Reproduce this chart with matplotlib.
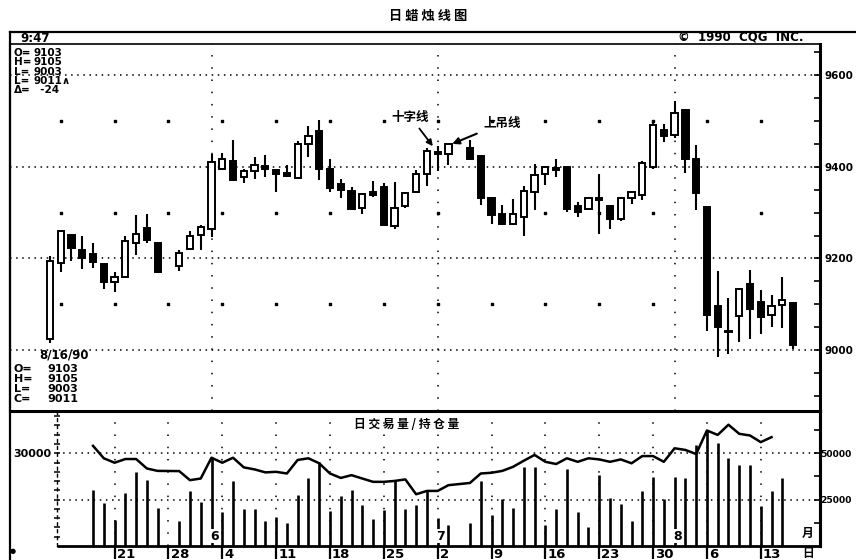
import numpy as np
import matplotlib
matplotlib.use("Agg")
import matplotlib.pyplot as plt
from matplotlib.patches import Rectangle
from matplotlib.lines import Line2D

CJK = ['Noto Sans CJK SC', 'DejaVu Sans']
plt.rcParams['font.family'] = ['DejaVu Sans', 'Noto Sans CJK SC']
plt.rcParams['font.weight'] = 'bold'

# every weekday 5/11/90 - 8/16/90; holidays keep an empty slot on the chart
weekdays = np.arange('1990-05-11', '1990-08-17', dtype='datetime64[D]')
weekdays = weekdays[np.is_busday(weekdays)]
holidays = np.array(['1990-05-28', '1990-07-04'], dtype='datetime64[D]')
trade_days = weekdays[~np.isin(weekdays, holidays)]

# daily candles (68 trading days)
opens = [9025, 9190, 9252, 9218, 9209, 9187, 9149, 9160, 9233, 9266, 9233,
         9183, 9220, 9251, 9265, 9396, 9412, 9378, 9391, 9401, 9392, 9387,
         9376, 9450, 9478, 9396, 9362, 9347, 9311, 9345, 9355, 9270, 9314,
         9345, 9385, 9430, 9429, 9440, 9423, 9331, 9298, 9276, 9290, 9345,
         9384, 9397, 9400, 9314, 9307, 9331, 9314, 9287, 9331, 9338, 9399,
         9481, 9469, 9525, 9418, 9312, 9096, 9042, 9074, 9144, 9105, 9076,
         9098, 9103]
highs = [9205, 9263, 9254, 9248, 9233, 9188, 9171, 9249, 9294, 9298, 9236,
         9219, 9260, 9272, 9429, 9430, 9458, 9396, 9421, 9425, 9394, 9405,
         9456, 9490, 9503, 9416, 9374, 9355, 9343, 9368, 9365, 9367, 9346,
         9394, 9440, 9445, 9450, 9459, 9425, 9333, 9316, 9329, 9357, 9407,
         9401, 9416, 9402, 9323, 9334, 9385, 9316, 9333, 9346, 9412, 9500,
         9493, 9543, 9527, 9447, 9314, 9173, 9113, 9136, 9174, 9132, 9120,
         9160, 9105]
lows = [9015, 9170, 9195, 9177, 9179, 9133, 9127, 9158, 9207, 9233, 9168,
        9173, 9218, 9218, 9247, 9394, 9370, 9365, 9374, 9378, 9345, 9378,
        9374, 9421, 9371, 9345, 9331, 9305, 9298, 9333, 9270, 9265, 9309,
        9343, 9357, 9390, 9403, 9414, 9316, 9276, 9273, 9274, 9249, 9305,
        9360, 9378, 9302, 9291, 9305, 9254, 9264, 9281, 9319, 9327, 9395,
        9454, 9462, 9387, 9305, 9042, 8985, 8991, 9018, 9025, 9035, 9051,
        9049, 9003]
closes = [9195, 9260, 9222, 9200, 9193, 9149, 9160, 9238, 9253, 9240, 9171,
          9212, 9249, 9268, 9410, 9418, 9372, 9390, 9403, 9396, 9385, 9380,
          9450, 9467, 9396, 9354, 9350, 9307, 9340, 9338, 9272, 9311, 9343,
          9384, 9435, 9429, 9449, 9416, 9331, 9294, 9275, 9298, 9348, 9382,
          9399, 9392, 9307, 9302, 9331, 9328, 9285, 9331, 9345, 9409, 9492,
          9467, 9518, 9416, 9342, 9076, 9051, 9039, 9134, 9089, 9073, 9096,
          9110, 9011]

# daily volume (from 5/17) and open interest (from 5/17)
vol_first = np.datetime64('1990-05-17')
volume = [18100, 13800, 8400, 17300, 23900, 21400, 12200, 8200, 17800, 14300,
          28900, 11100, 21100, 12000, 11900, 8200, 9500, 7300, 16500, 21900,
          27300, 11400, 16200, 18100, 13300, 8600, 11600, 21400, 11900, 13300,
          18100, 9200, 6800, 7300, 21000, 10000, 15100, 12200, 25700, 25700,
          6800, 11900, 24800, 11100, 6300, 23000, 15400, 13600, 8200, 17800,
          22400, 15100, 22400, 21900, 32700, 37500, 33200, 28400, 26200, 26200,
          12900, 17800, 21900]
open_interest = [54000, 47300, 44900, 46900, 46900, 41800, 40500, 40400, 35500,
                 36400, 47600, 44900, 47600, 42400, 41300, 39700, 40000, 39100,
                 46400, 47300, 44600, 39100, 36700, 38200, 36400, 34600, 34600,
                 35100, 35900, 27900, 29700, 29700, 32800, 34000, 39100, 39500,
                 40500, 42700, 46000, 49100, 45400, 44200, 47300, 45400, 47300,
                 46700, 45400, 46700, 44600, 48500, 48500, 45400, 52700, 51800,
                 49600, 62300, 59900, 65400, 60500, 59600, 56000, 58700]

price_ticks = [9000, 9200, 9400, 9600]
price_dot_rows = [9100, 9300, 9500]
month_labels = ['6', '7', '8']
top_labels = ['O=', 'H=', 'L=', 'L=', 'Δ=']
top_values = ['9103', '9105', '9003', '9011∧', '  -24']
last_date = '8/16/90'
last_labels = ['O=', 'H=', 'L=', 'C=']
last_values = ['9103', '9105', '9003', '9011']


def slot(days):
    return np.searchsorted(weekdays, days)


x_c = slot(trade_days)
k0 = int(np.searchsorted(trade_days, vol_first))
x_vol = x_c[k0:k0 + len(volume)]
x_oi = x_c[k0:k0 + len(open_interest)]

dnum = weekdays.astype('int64')
mondays = weekdays[(dnum - 4) % 7 == 0]
x_mon = slot(mondays)
mon_lab = (mondays - mondays.astype('datetime64[M]')).astype(int) + 1
month_of = trade_days.astype('datetime64[M]')
first_of_month = trade_days[np.r_[False, month_of[1:] != month_of[:-1]]]
x_month = slot(first_of_month)

W, H = 856, 560
def fx(x): return x / W
def fy(y): return 1 - y / H

fig = plt.figure(figsize=(8.56, 5.6), dpi=100)
XL = (-3.71, 71.5)

# ---------------- price panel ----------------
ax = fig.add_axes([fx(10), fy(411), fx(820) - fx(10), fy(44) - fy(411)])
ax.set_xlim(*XL)
ax.set_ylim(8867, 9668)

for p in price_ticks:
    ax.axhline(p, color='black', lw=1.1, ls=(0, (1, 3)), zorder=1)
for xm in x_month:
    ax.axvline(xm, color='black', lw=1.1, ls=(0, (1, 7)), zorder=1)
dx = np.repeat(x_mon, len(price_dot_rows))
dy = np.tile(price_dot_rows, len(x_mon))
ax.scatter(dx, dy, s=2, marker='s', color='black', zorder=1)

w = 0.58
for xi, o, h, l, c in zip(x_c, opens, highs, lows, closes):
    ax.vlines(xi, l, h, color='black', lw=1.5, zorder=2)
    lo, hi = min(o, c), max(o, c)
    ax.add_patch(Rectangle((xi - w / 2, lo), w, max(hi - lo, 3),
                           facecolor='white' if c > o else 'black',
                           edgecolor='black', lw=1.4, zorder=3))

ax.set_xticks([])
ax.yaxis.tick_right()
ax.set_yticks(price_ticks)
ax.set_yticklabels([str(p) for p in price_ticks])
ax.set_yticks(np.arange(8900, 9651, 50), minor=True)
ax.tick_params(axis='y', which='both', direction='in', length=4, width=1.2,
               right=True, left=False)
ax.tick_params(axis='y', which='major', pad=3, labelsize=7.5)
ax.spines['left'].set_linewidth(1.5)
ax.spines['top'].set_linewidth(1.2)
ax.spines['right'].set_linewidth(2.2)
ax.spines['bottom'].set_linewidth(2.2)

doji = int(np.searchsorted(trade_days, np.datetime64('1990-07-02')))
hang = doji + 1
ax.annotate('十字线', xy=(x_c[doji] - 0.45, highs[doji]), xytext=(-16, 21),
            textcoords='offset points', ha='center', va='center',
            family=CJK, fontsize=9, weight='bold',
            arrowprops=dict(arrowstyle='-|>', lw=1.3, color='black',
                            mutation_scale=9, shrinkA=2, shrinkB=0))
ax.annotate('上吊线', xy=(x_c[hang] + 0.35, highs[hang]), xytext=(36, 15),
            textcoords='offset points', ha='center', va='center',
            family=CJK, fontsize=9, weight='bold',
            arrowprops=dict(arrowstyle='-|>', lw=1.5, color='black',
                            mutation_scale=10, shrinkA=3, shrinkB=0))

# ---------------- volume / open interest panel ----------------
axv = fig.add_axes([fx(10), fy(546), fx(820) - fx(10), fy(411) - fy(546)])
axv.set_xlim(*XL)
axv.set_ylim(0, 43690)
axv.patch.set_alpha(0)
left_x = 0.65

axv.hlines([30000, 15000], left_x, XL[1], color='black', lw=1.1,
           ls=(0, (1, 3)), zorder=1)
lab_sel = x_mon >= x_vol[0]
lab_mon = x_mon[lab_sel]
axv.vlines(lab_mon, 0, 43690, color='black', lw=1.1, ls=(0, (1, 7)), zorder=1)
axv.vlines(x_vol, 0, volume, color='black', lw=1.9, zorder=2)
axv.hlines(0, left_x, XL[1], color='black', lw=2, clip_on=False, zorder=4)

axv.spines['top'].set_visible(False)
axv.spines['bottom'].set_visible(False)
axv.spines['right'].set_linewidth(2.2)
axv.spines['left'].set_position(('data', left_x))
axv.spines['left'].set_linestyle((0, (2, 3)))
axv.spines['left'].set_linewidth(1.0)
axv.set_yticks([30000])
axv.set_yticklabels(['30000'])
axv.set_yticks(np.arange(3000, 43000, 3000), minor=True)
axv.tick_params(axis='y', which='both', direction='inout', length=4, width=1.1,
                pad=2, labelsize=8)

lab_mon_days = mon_lab[lab_sel]
axv.set_xticks(lab_mon)
axv.tick_params(axis='x', direction='out', length=9, width=1.6,
                labelbottom=False)
for xm, d in zip(lab_mon, lab_mon_days):
    axv.annotate(str(d), xy=(xm, 0), xytext=(1.5, -1.5),
                 textcoords='offset points', ha='left', va='top',
                 fontsize=9.5, annotation_clip=False)
for xm, lbl in zip(x_month, month_labels):
    axv.annotate(lbl, xy=(xm, 0), xytext=(2, 2.5), textcoords='offset points',
                 ha='center', va='bottom', fontsize=9, zorder=5,
                 bbox=dict(facecolor='white', edgecolor='none', pad=0.3))

axo = axv.twinx()
axo.set_xlim(*XL)
axo.set_ylim(0, 72800)
axo.plot(x_oi, open_interest, color='black', lw=1.8, zorder=3)
for s in ['top', 'bottom', 'left']:
    axo.spines[s].set_visible(False)
axo.spines['right'].set_linewidth(2.2)
axo.set_yticks([25000, 50000])
axo.set_yticklabels(['25000', '50000'])
axo.set_yticks(np.arange(12500, 70000, 12500), minor=True)
axo.tick_params(axis='y', which='both', direction='in', length=4, width=1.2,
                pad=0.5, labelsize=6.6)

# ---------------- frame and text ----------------
fig.add_artist(Line2D([fx(10), 1], [fy(32), fy(32)], lw=1.6, color='black'))
fig.add_artist(Line2D([fx(10), fx(10)], [fy(32), 0], lw=1.6, color='black'))

fig.text(fx(428), fy(16), '日 蜡 烛 线 图', ha='center', va='center',
         family=CJK, fontsize=9.5, weight='bold')
fig.text(fx(20), fy(38.5), '9:47', ha='left', va='center', fontsize=8.5)
fig.text(fx(678), fy(38), '©  1990  CQG  INC.', ha='left', va='center',
         fontsize=8.5)
fig.text(fx(407), fy(424), '日 交 易 量 / 持 仓 量', ha='center', va='center',
         family=CJK, fontsize=8.5, weight='bold')

# quote blocks, each column as one multi-line text
fig.text(fx(14), fy(48), '\n'.join(top_labels), ha='left', va='top',
         fontsize=7.5, linespacing=0.92)
fig.text(fx(33), fy(48), '\n'.join(top_values), ha='left', va='top',
         fontsize=7.5, linespacing=0.92)

fig.text(fx(39), fy(355), last_date, ha='left', va='center', fontsize=8.5)
fig.text(fx(14), fy(364), '\n'.join(last_labels), ha='left', va='top',
         fontsize=8, linespacing=1.0)
fig.text(fx(47), fy(364), '\n'.join(last_values), ha='left', va='top',
         fontsize=8, linespacing=1.0)

fig.text(fx(808), fy(533), '月', ha='center', va='center', family=CJK,
         fontsize=8.5, weight='bold')
fig.text(fx(808), fy(553), '日', ha='center', va='center', family=CJK,
         fontsize=8.5, weight='bold')
fig.text(fx(13), fy(551), '●', ha='center', va='center', fontsize=5)

fig.savefig('out.png', dpi=100, facecolor='white')
